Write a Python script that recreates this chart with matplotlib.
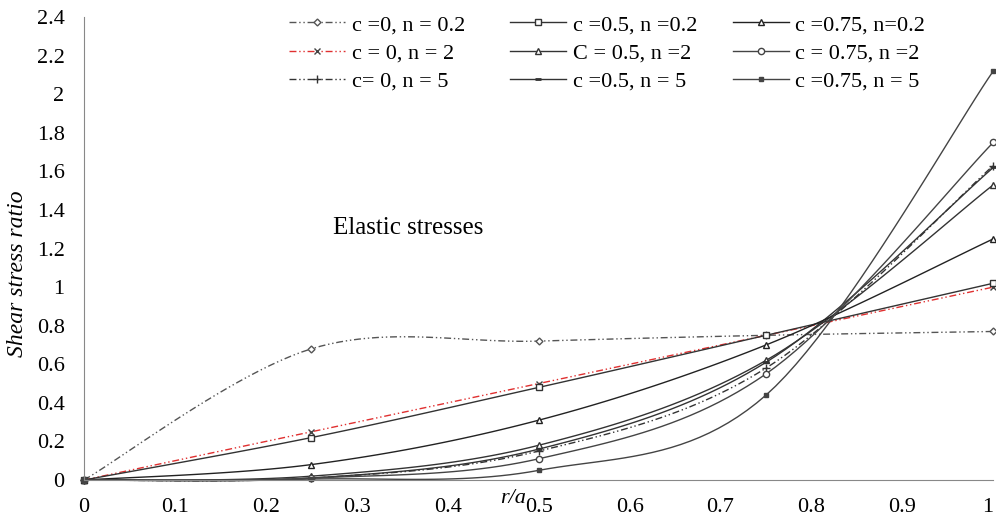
import numpy as np
import matplotlib
matplotlib.use('Agg')
import matplotlib.pyplot as plt

# Dados
r_a = [0, 0.25, 0.5, 0.75, 1.0]

c0_n02 = [0, 0.68, 0.72, 0.75, 0.77]
c05_n02 = [0, 0.22, 0.48, 0.75, 1.02]
c075_n02 = [0, 0.08, 0.31, 0.70, 1.25]
c0_n2 = [0, 0.25, 0.50, 0.75, 1.00]
c05_n2 = [0, 0.02, 0.18, 0.62, 1.53]
c075_n2 = [0, 0.01, 0.11, 0.55, 1.75]
c0_n5 = [0, 0.01, 0.15, 0.58, 1.63]
c05_n5 = [0, 0.01, 0.16, 0.61, 1.62]
c075_n5 = [0, 0.005, 0.05, 0.44, 2.12]

labels = ['c =0, n = 0.2', 'c = 0, n = 2', 'c= 0, n = 5',
          'c =0.5, n =0.2', 'C = 0.5, n =2', 'c =0.5, n = 5',
          'c =0.75, n=0.2', 'c = 0.75, n =2', 'c =0.75, n = 5']
series = [c0_n02, c0_n2, c0_n5, c05_n02, c05_n2, c05_n5, c075_n02, c075_n2, c075_n5]

ddd = (0, (5, 2, 1, 2, 1, 2))
estilos = [
    dict(color='#555555', ls=ddd, marker='D', ms=3.5, mfc='white'),
    dict(color='#e03030', ls=ddd, marker='x', ms=4.5, mec='#444444'),
    dict(color='#333333', ls=ddd, marker='+', ms=6),
    dict(color='#333333', ls='-', marker='s', ms=4.5, mfc='white'),
    dict(color='#333333', ls='-', marker='^', ms=4.5, mfc='white'),
    dict(color='#333333', ls='-', marker='_', ms=5, mew=2),
    dict(color='#222222', ls='-', marker='^', ms=4.5, mfc='white'),
    dict(color='#444444', ls='-', marker='o', ms=4.5, mfc='white'),
    dict(color='#444444', ls='-', marker='s', ms=3.5, mfc='#444444'),
]


def suaviza(x, y, n=24):
    # curva suavizada tipo Excel (Catmull-Rom em Bezier)
    x = np.asarray(x, float)
    y = np.asarray(y, float)
    px = np.concatenate([[x[0]], x, [x[-1]]])
    py = np.concatenate([[y[0]], y, [y[-1]]])
    xs, ys, idx = [], [], []
    t = np.linspace(0, 1, n, endpoint=False)
    for i in range(len(x) - 1):
        p0 = np.array([px[i + 1], py[i + 1]])
        p3 = np.array([px[i + 2], py[i + 2]])
        p1 = p0 + (p3 - np.array([px[i], py[i]])) / 6.0
        p2 = p3 - (np.array([px[i + 3], py[i + 3]]) - p0) / 6.0
        b = (np.outer((1 - t) ** 3, p0) + np.outer(3 * (1 - t) ** 2 * t, p1)
             + np.outer(3 * (1 - t) * t ** 2, p2) + np.outer(t ** 3, p3))
        idx.append(len(xs))
        xs.extend(b[:, 0])
        ys.extend(b[:, 1])
    idx.append(len(xs))
    xs.append(x[-1])
    ys.append(y[-1])
    return xs, ys, idx


plt.rcParams['font.family'] = 'Liberation Serif'
fig = plt.figure(figsize=(9.96, 5.31), dpi=100)
ax = fig.add_axes([0.0843, 0.096, 0.913, 0.872])

linhas = []
for s, lab, st in zip(series, labels, estilos):
    xs, ys, idx = suaviza(r_a, s)
    st = dict(st)
    st.setdefault('mec', st['color'])
    l, = ax.plot(xs, ys, lw=1, markevery=idx, label=lab, clip_on=False, **st)
    linhas.append(l)

ax.set_xlim(0, 1)
ax.set_ylim(0, 2.4)
ax.set_xticks(np.arange(0, 1.01, 0.1))
ax.set_yticks(np.arange(0, 2.41, 0.2))
ax.set_xticklabels(['0', '0.1', '0.2', '0.3', '0.4', '0.5', '0.6', '0.7', '0.8', '0.9', '1'])
ax.set_yticklabels(['0', '0.2', '0.4', '0.6', '0.8', '1', '1.2', '1.4', '1.6', '1.8', '2', '2.2', '2.4'])
ax.tick_params(length=0, labelsize=16)
ax.tick_params(axis='y', pad=14)
ax.tick_params(axis='x', pad=13)
ax.get_xticklabels()[-1].set_ha('right')
for sp in ['top', 'right']:
    ax.spines[sp].set_visible(False)
for sp in ['left', 'bottom']:
    ax.spines[sp].set_color('#888888')

ax.set_xlabel('r/a', fontsize=16, style='italic')
ax.xaxis.set_label_coords(0.472, -0.02)
ax.set_ylabel('Shear stress ratio', fontsize=17, style='italic')
ax.yaxis.set_label_coords(-0.062, 0.445)

ax.text(0.274, 1.305, 'Elastic stresses', fontsize=18, va='center')

# legenda em tres colunas de largura fixa
xcol = [0.226, 0.469, 0.714]
for k in range(3):
    leg = ax.legend(handles=linhas[3 * k:3 * k + 3], loc='upper left',
                    bbox_to_anchor=(xcol[k], 1.005), frameon=False, fontsize=16,
                    handlelength=2.5, handletextpad=0.3, labelspacing=0.35,
                    borderpad=0, borderaxespad=0, numpoints=1)
    if k < 2:
        ax.add_artist(leg)

fig.savefig('out.png', dpi=100)
